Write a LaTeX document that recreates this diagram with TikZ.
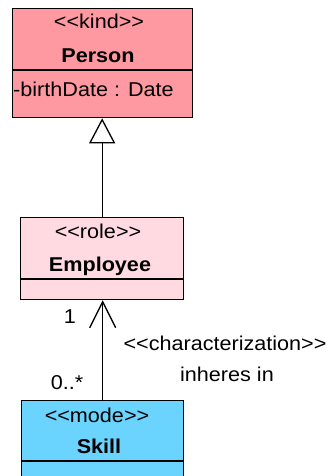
\documentclass[tikz,border=0pt]{standalone}
\usepackage{fontspec}
\setmainfont{Liberation Sans}[FakeStretch=1.08]
\usetikzlibrary{arrows.meta}
\definecolor{kindfill}{RGB}{255,153,161}
\definecolor{rolefill}{RGB}{255,218,224}
\definecolor{modefill}{RGB}{106,212,255}
% guillemet-free stereotype brackets
\newcommand\stOpen{<\kern0pt<}
\newcommand\stClose{>\kern0pt>}

\begin{document}
\begin{tikzpicture}[x=1pt,y=-1pt,
  classbox/.style={draw=black, line width=1.3pt, rectangle, inner sep=0pt, anchor=north west},
  divider/.style={draw=black, line width=1.3pt},
  lbl/.style={anchor=base, inner sep=0pt, font=\fontsize{20}{24}\selectfont},
  conn/.style={draw=black, line width=1.3pt},
]
\useasboundingbox (0,0) rectangle (329,476);

% Person <<kind>>
\node[classbox, fill=kindfill, minimum width=180pt, minimum height=109pt] (person) at (12,8) {};
\draw[divider] (12,70) -- (192,70);
\node[lbl] (personst) at (99,29) {\stOpen kind\stClose};
\node[lbl, font=\fontsize{20}{24}\selectfont\bfseries] (personname) at (98,63) {Person};
\node[lbl, anchor=base west] (personattr) at (13,97) {-birthDate : Date};

% Employee <<role>>
\node[classbox, fill=rolefill, minimum width=163pt, minimum height=82pt] (employee) at (20,217) {};
\draw[divider] (20,279) -- (183,279);
\node[lbl] (employeest) at (98,238) {\stOpen role\stClose};
\node[lbl, font=\fontsize{20}{24}\selectfont\bfseries] (employeename) at (100,271) {Employee};

% Skill <<mode>>
\node[classbox, fill=modefill, minimum width=162pt, minimum height=90pt] (skill) at (21,400) {};
\draw[divider] (21,461) -- (183,461);
\node[lbl] (skillst) at (97,422) {\stOpen mode\stClose};
\node[lbl, font=\fontsize{20}{24}\selectfont\bfseries] (skillname) at (99,453) {Skill};

% generalization Employee -> Person
\draw[conn, -{Triangle[open, length=25pt, width=26pt]}]
  (employee.north) -- (employee.north |- person.south);

% characterization Skill -> Employee
\draw[conn, -{Straight Barb[length=26pt, width=26pt]}]
  (skill.north) -- (skill.north |- employee.south);

\node[lbl] (multtop) at (70,323) {1};
\node[lbl] (multbot) at (67,389) {0..*};
\node[lbl] (assocst) at (225,350) {\stOpen characterization\stClose};
\node[lbl] (assocname) at (227,381) {inheres in};
\end{tikzpicture}
\end{document}
